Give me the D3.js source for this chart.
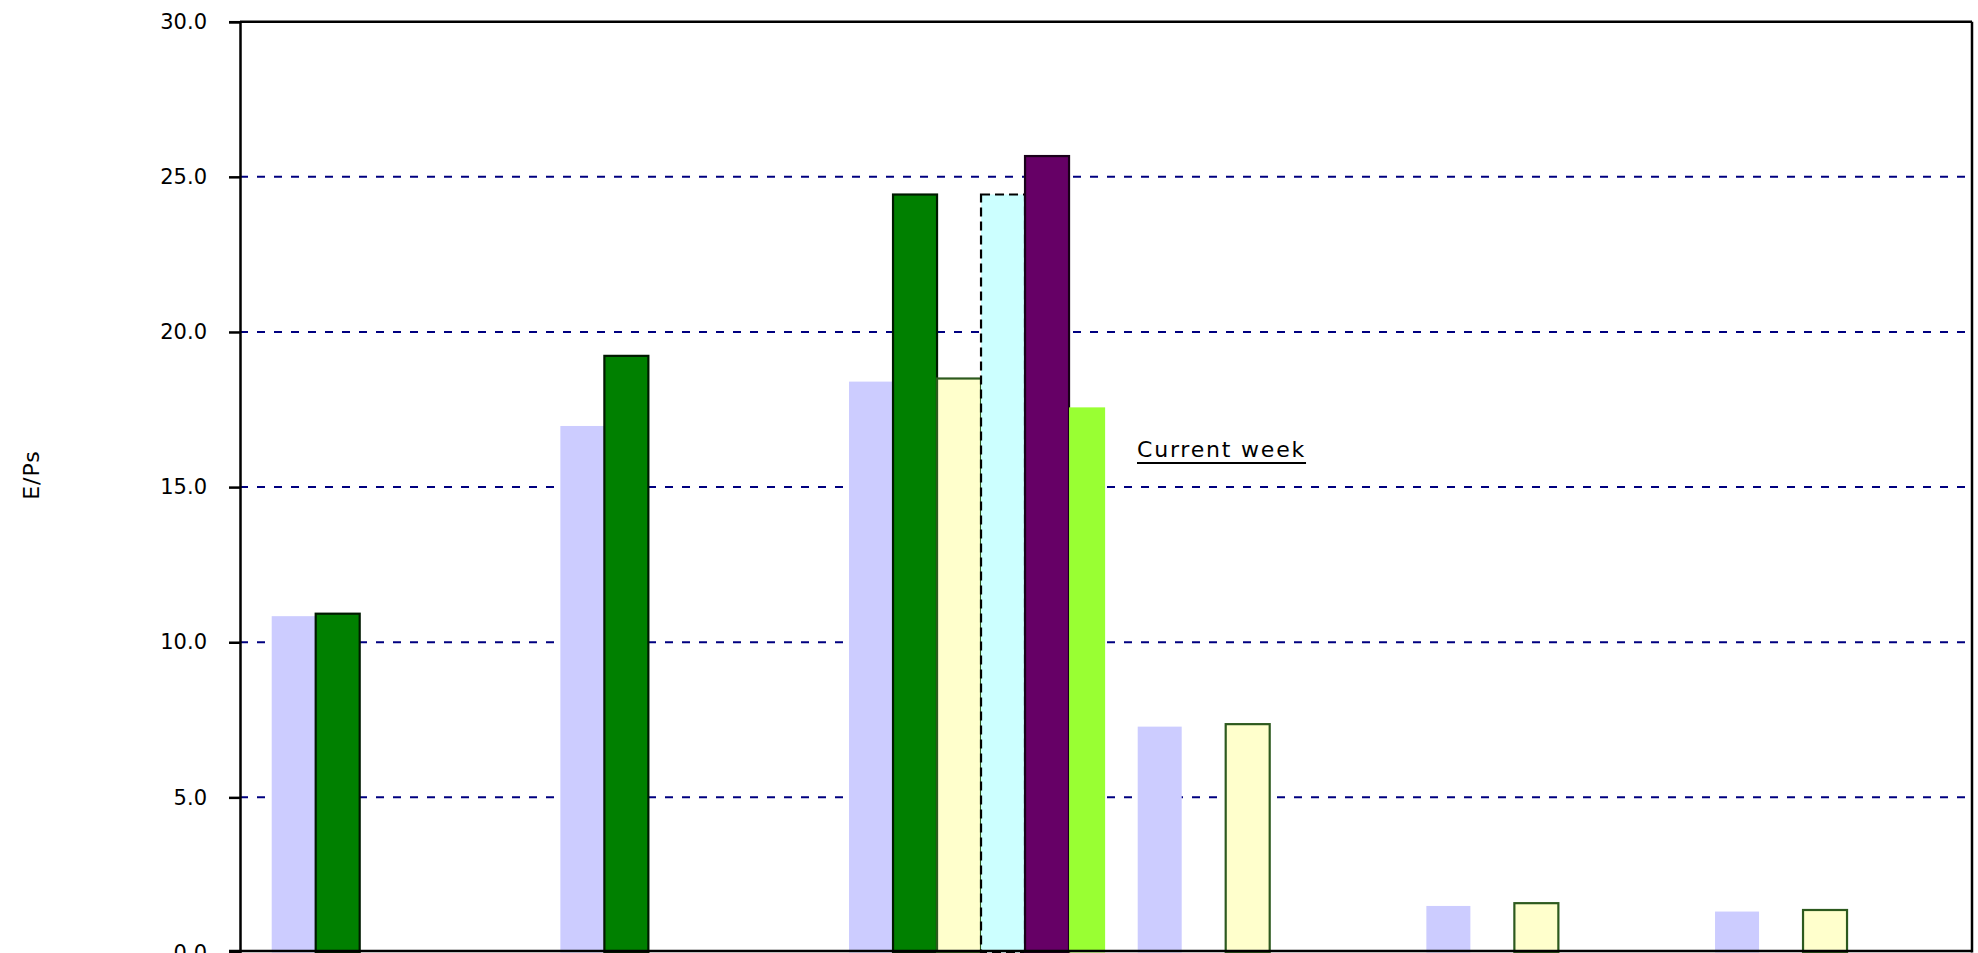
<!DOCTYPE html>
<html>
<head>
<meta charset="utf-8">
<script src="https://cdn.jsdelivr.net/npm/d3@7"></script>
<style>
  html, body { margin: 0; padding: 0; background: #fff; overflow: hidden; }
  svg { display: block; }
</style>
</head>
<body>
<svg id="chart" width="1978" height="953"></svg>
<script>
// ---- data ----
const categories = ["Group 1", "Group 2", "Group 3", "Group 4", "Group 5", "Group 6"];
const seriesNames = ["Series 1", "Series 2", "Series 3", "Series 4", "Series 5", "Series 6"];
const series1 = [10.84, 16.97, 18.40, 7.28, 1.50, 1.32];
const series2 = [10.92, 19.23, 24.43, null, null, null];
const series3 = [null, null, 18.50, 7.36, 1.59, 1.37];
const series4 = [null, null, 24.43, null, null, null];
const series5 = [null, null, 25.67, null, null, null];
const series6 = [null, null, 17.57, null, null, null];
const yTicks = [0, 5, 10, 15, 20, 25, 30];
const yLabel = "E/Ps";
const noteText = "Current week";

// ---- styles (per series) ----
const seriesStyles = [
  { fill: "#CCCCFF", stroke: "none", dash: null, widthFrac: 1 },
  { fill: "#008000", stroke: "#001a00", dash: null, widthFrac: 1 },
  { fill: "#FFFFCC", stroke: "#2d5a1e", dash: null, widthFrac: 1 },
  { fill: "#CCFFFF", stroke: "#000000", dash: "9,5", widthFrac: 1 },
  { fill: "#660066", stroke: "#1a001a", dash: null, widthFrac: 1 },
  { fill: "#99FF33", stroke: "none", dash: null, widthFrac: 0.82 }
];

const allSeries = [series1, series2, series3, series4, series5, series6];

const W = 1978, H = 953;
const plot = { left: 240, right: 1972, top: 21.7, bottom: 952.5 };
const groupOffset = 31.7, barW = 44;

const svg = d3.select("#chart");

const y = d3.scaleLinear().domain([0, 30]).range([plot.bottom, plot.top]);
const x0 = d3.scaleBand().domain(categories).range([plot.left, plot.right]).paddingInner(0).paddingOuter(0);
const x1 = d3.scaleBand().domain(seriesNames).range([groupOffset, groupOffset + barW * seriesNames.length]);

// gridlines
svg.append("g")
  .selectAll("line")
  .data(yTicks.filter(t => t > 0 && t < 30))
  .join("line")
  .attr("x1", plot.left).attr("x2", plot.right)
  .attr("y1", d => y(d)).attr("y2", d => y(d))
  .attr("stroke", "#000080")
  .attr("stroke-width", 2)
  .attr("stroke-dasharray", "8,9");

// bars
const barData = [];
allSeries.forEach((vals, si) => {
  vals.forEach((v, ci) => {
    if (v !== null && v !== undefined) barData.push({ si, ci, v });
  });
});

svg.append("g")
  .selectAll("rect")
  .data(barData)
  .join("rect")
  .attr("x", d => x0(categories[d.ci]) + x1(seriesNames[d.si]))
  .attr("width", d => x1.bandwidth() * seriesStyles[d.si].widthFrac)
  .attr("y", d => y(d.v))
  .attr("height", d => y(0) - y(d.v))
  .attr("fill", d => seriesStyles[d.si].fill)
  .attr("stroke", d => seriesStyles[d.si].stroke)
  .attr("stroke-width", 2.2)
  .attr("stroke-dasharray", d => seriesStyles[d.si].dash);

// plot border (top and right)
svg.append("line")
  .attr("x1", plot.left).attr("x2", plot.right)
  .attr("y1", plot.top).attr("y2", plot.top)
  .attr("stroke", "#000").attr("stroke-width", 2.5);
svg.append("line")
  .attr("x1", plot.right).attr("x2", plot.right)
  .attr("y1", plot.top).attr("y2", plot.bottom)
  .attr("stroke", "#000").attr("stroke-width", 2.5);
// bottom axis line
svg.append("line")
  .attr("x1", plot.left - 11).attr("x2", plot.right)
  .attr("y1", y(0) - 1.5).attr("y2", y(0) - 1.5)
  .attr("stroke", "#000").attr("stroke-width", 2.5);

// y axis
const yAxis = d3.axisLeft(y)
  .tickValues(yTicks)
  .tickFormat(d3.format(".1f"))
  .tickSize(11)
  .tickPadding(22);

const gy = svg.append("g")
  .attr("transform", `translate(${plot.left},0)`)
  .call(yAxis);
gy.select(".domain").attr("stroke", "#000").attr("stroke-width", 2.5);
gy.selectAll(".tick line").attr("stroke", "#000").attr("stroke-width", 2.5);
gy.selectAll(".tick text")
  .attr("fill", "#000")
  .style("font-family", "'DejaVu Sans', sans-serif")
  .style("font-size", "21px");

// y label
svg.append("text")
  .attr("transform", `translate(39,475) rotate(-90)`)
  .attr("text-anchor", "middle")
  .style("font-family", "'DejaVu Sans', sans-serif")
  .style("font-size", "22px")
  .style("letter-spacing", "1px")
  .attr("fill", "#000")
  .text(yLabel);

// annotation
const note = svg.append("text")
  .attr("x", 1137).attr("y", 457)
  .style("font-family", "'DejaVu Sans', sans-serif")
  .style("font-size", "22px")
  .style("letter-spacing", "1.8px")
  .attr("fill", "#000")
  .text(noteText);
const noteLen = note.node().getComputedTextLength();
svg.append("line")
  .attr("x1", 1137).attr("x2", 1137 + noteLen)
  .attr("y1", 463).attr("y2", 463)
  .attr("stroke", "#000").attr("stroke-width", 2.2);
</script>
</body>
</html>
